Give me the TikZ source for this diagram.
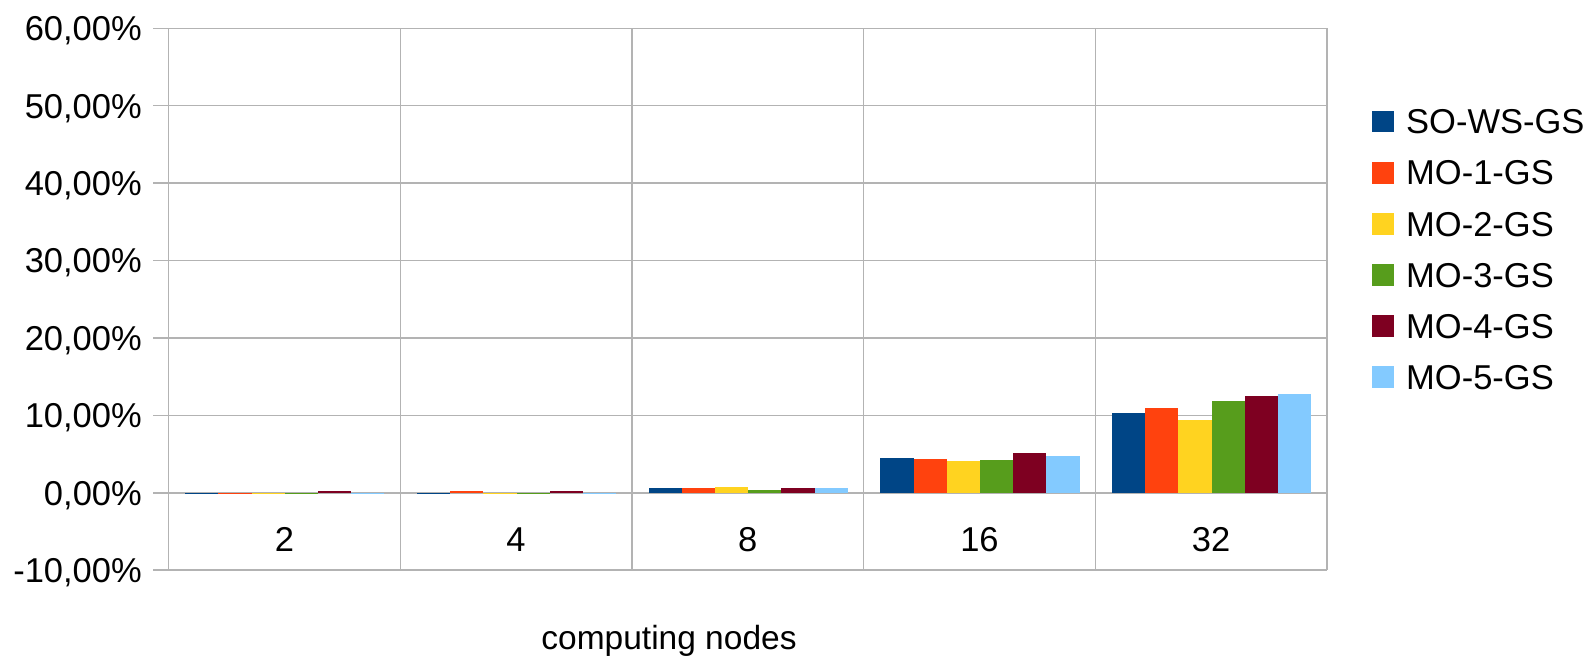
\documentclass[tikz,border=0pt]{standalone}
\usepackage{fontspec}
\setmainfont{Liberation Sans}
\definecolor{serA}{HTML}{004586}
\definecolor{serB}{HTML}{FF420E}
\definecolor{serC}{HTML}{FFD320}
\definecolor{serD}{HTML}{579D1C}
\definecolor{serE}{HTML}{7E0021}
\definecolor{serF}{HTML}{83CAFF}
\definecolor{gridgray}{HTML}{B3B3B3}
\tikzset{
  gridline/.style={draw=gridgray, line width=1.3pt},
  axisline/.style={draw=gridgray, line width=2pt},
  ticklabel/.style={font=\fontsize{34.5}{40}\selectfont, inner sep=0pt},
  bar/.style={line width=0pt},
  legendkey/.style={minimum size=21.7pt, inner sep=0pt, outer sep=0pt},
}
\begin{document}
\begin{tikzpicture}[x=1pt, y=-1pt]
  \useasboundingbox (0,0) rectangle (1591,657);
  % plot frame: left 168.5, right 1327, 0% at 492.7, 7.74 px per percent
  \def\yz{492.7}
  \def\ys{7.74}
  \def\cw{231.7}
  % horizontal grid lines with tick stubs and value labels
  \foreach \v/\lab [count=\k] in {60/{60,00\%},50/{50,00\%},40/{40,00\%},30/{30,00\%},20/{20,00\%},10/{10,00\%},-10/{-10,00\%}} {
    \pgfmathsetmacro{\yy}{\yz-\v*\ys}
    \draw[gridline] (153,\yy) -- (1327,\yy);
    \node[ticklabel, anchor=base east] (ylab\k) at (142,\yy+12.3) {\lab};
  }
  \node[ticklabel, anchor=base east] (ylab0) at (142,\yz+12.3) {0,00\%};
  % vertical grid lines between categories
  \foreach \i in {0,...,5} {
    \pgfmathsetmacro{\xx}{168.5+\i*\cw}
    \draw[gridline] (\xx,{\yz-60*\ys}) -- (\xx,{\yz+10*\ys});
  }
  % zero axis
  \draw[axisline] (153,\yz) -- (1327,\yz);
  % bars: one row of six series per category
  \foreach \vals [count=\g from 0] in {
      {-0.16,-0.16,-0.16,-0.16,0.16,-0.12},
      {-0.16,0.16,-0.12,-0.16,0.16,-0.12},
      {0.61,0.61,0.73,0.35,0.61,0.61},
      {4.48,4.36,4.14,4.27,5.17,4.74},
      {10.34,10.98,9.43,11.89,12.53,12.79}} {
    \foreach \v [count=\s from 0] in \vals {
      \pgfmathsetmacro{\xa}{168.5+\g*\cw+16.7+\s*33.2}
      \pgfmathsetmacro{\xb}{\xa+33.2}
      \pgfmathsetmacro{\yt}{\yz-\v*\ys}
      \ifcase\s \def\sc{serA}\or \def\sc{serB}\or \def\sc{serC}\or \def\sc{serD}\or \def\sc{serE}\or \def\sc{serF}\fi
      \fill[bar, fill=\sc] (\xa,\yz) rectangle (\xb,\yt);
    }
  }
  % category labels
  \foreach \c [count=\g from 0] in {2,4,8,16,32} {
    \node[ticklabel, anchor=base] (cat\c) at ({168.5+(\g+0.5)*\cw},551) {\c};
  }
  % axis title
  \node[inner sep=0pt, anchor=base, font=\fontsize{33.5}{40}\selectfont] (xtitle) at (669,649) {computing nodes};
  % legend
  \foreach \name/\col [count=\k from 0] in {SO-WS-GS/serA,MO-1-GS/serB,MO-2-GS/serC,MO-3-GS/serD,MO-4-GS/serE,MO-5-GS/serF} {
    \pgfmathsetmacro{\ly}{121.5+\k*51.15}
    \node[legendkey, fill=\col] (key\k) at (1383.2,\ly) {};
    \node[ticklabel, anchor=base west] (leg\k) at (1406,\ly+12.3) {\name};
  }
\end{tikzpicture}
\end{document}
